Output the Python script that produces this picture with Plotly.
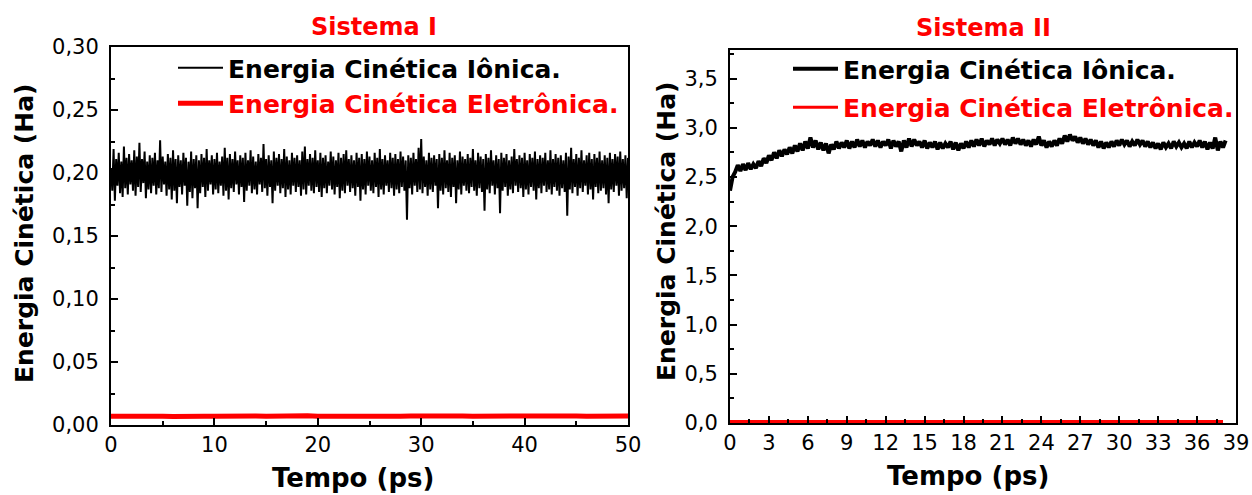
import plotly.graph_objects as go

# ---------------- Data ----------------
# Sistema I : ionic kinetic energy, time step 0.125 ps, 0..50 ps
s1_t_step = 0.125
s1_ionic = [
    0.204,
    0.186, 0.219, 0.178, 0.211, 0.190, 0.216, 0.184, 0.209, 0.181, 0.221,
    0.188, 0.212, 0.183, 0.215, 0.191, 0.210, 0.186, 0.218, 0.182, 0.213,
    0.189, 0.224, 0.185, 0.211, 0.192, 0.217, 0.180, 0.209, 0.187, 0.214,
    0.184, 0.212, 0.190, 0.216, 0.183, 0.210, 0.188, 0.226, 0.185, 0.213,
    0.191, 0.209, 0.182, 0.215, 0.187, 0.212, 0.179, 0.218, 0.186, 0.211,
    0.176, 0.214, 0.189, 0.210, 0.183, 0.216, 0.190, 0.212, 0.174, 0.209,
    0.185, 0.217, 0.180, 0.211, 0.188, 0.214, 0.172, 0.210, 0.184, 0.215,
    0.189, 0.212, 0.181, 0.219, 0.186, 0.210, 0.191, 0.214, 0.183, 0.211,
    0.187, 0.216, 0.184, 0.209, 0.190, 0.213, 0.182, 0.220, 0.186, 0.212,
    0.179, 0.215, 0.188, 0.211, 0.185, 0.217, 0.191, 0.210, 0.183, 0.214,
    0.189, 0.212, 0.177, 0.216, 0.186, 0.210, 0.190, 0.218, 0.184, 0.213,
    0.187, 0.209, 0.183, 0.215, 0.191, 0.212, 0.185, 0.223, 0.188, 0.211,
    0.182, 0.214, 0.189, 0.210, 0.176, 0.217, 0.186, 0.212, 0.190, 0.215,
    0.184, 0.211, 0.188, 0.219, 0.181, 0.213, 0.187, 0.210, 0.183, 0.216,
    0.190, 0.212, 0.185, 0.214, 0.189, 0.210, 0.182, 0.217, 0.187, 0.221,
    0.183, 0.211, 0.190, 0.215, 0.186, 0.212, 0.184, 0.218, 0.189, 0.210,
    0.185, 0.216, 0.181, 0.212, 0.188, 0.214, 0.184, 0.209, 0.190, 0.217,
    0.187, 0.213, 0.183, 0.210, 0.189, 0.216, 0.180, 0.212, 0.186, 0.215,
    0.184, 0.218, 0.190, 0.211, 0.185, 0.214, 0.188, 0.210, 0.182, 0.216,
    0.189, 0.212, 0.178, 0.215, 0.187, 0.211, 0.183, 0.217, 0.190, 0.213,
    0.186, 0.210, 0.184, 0.216, 0.189, 0.212, 0.181, 0.219, 0.187, 0.211,
    0.183, 0.214, 0.190, 0.210, 0.185, 0.216, 0.188, 0.212, 0.182, 0.215,
    0.187, 0.211, 0.184, 0.217, 0.189, 0.213, 0.186, 0.210, 0.163, 0.214,
    0.188, 0.212, 0.183, 0.216, 0.190, 0.211, 0.185, 0.220, 0.187, 0.227,
    0.184, 0.213, 0.189, 0.210, 0.182, 0.216, 0.187, 0.212, 0.185, 0.214,
    0.190, 0.211, 0.172, 0.215, 0.186, 0.212, 0.183, 0.218, 0.188, 0.210,
    0.185, 0.216, 0.181, 0.212, 0.189, 0.214, 0.176, 0.210, 0.187, 0.217,
    0.183, 0.213, 0.190, 0.211, 0.186, 0.215, 0.184, 0.212, 0.189, 0.219,
    0.186, 0.210, 0.182, 0.216, 0.188, 0.213, 0.185, 0.211, 0.170, 0.215,
    0.187, 0.212, 0.184, 0.218, 0.190, 0.210, 0.183, 0.214, 0.188, 0.211,
    0.168, 0.216, 0.186, 0.212, 0.189, 0.215, 0.182, 0.210, 0.187, 0.213,
    0.184, 0.219, 0.190, 0.211, 0.185, 0.214, 0.188, 0.212, 0.181, 0.216,
    0.187, 0.210, 0.183, 0.215, 0.189, 0.212, 0.186, 0.217, 0.179, 0.211,
    0.188, 0.214, 0.184, 0.212, 0.190, 0.216, 0.185, 0.210, 0.187, 0.218,
    0.183, 0.211, 0.189, 0.215, 0.186, 0.212, 0.182, 0.214, 0.188, 0.210,
    0.185, 0.216, 0.166, 0.213, 0.187, 0.220, 0.184, 0.211, 0.189, 0.215,
    0.182, 0.212, 0.188, 0.218, 0.185, 0.210, 0.190, 0.214, 0.183, 0.216,
    0.187, 0.211, 0.179, 0.215, 0.189, 0.212, 0.184, 0.217, 0.186, 0.210,
    0.188, 0.214, 0.183, 0.212, 0.176, 0.216, 0.187, 0.211, 0.185, 0.215,
    0.190, 0.213, 0.182, 0.217, 0.186, 0.211, 0.188, 0.214, 0.180, 0.212,
]
# Sistema I electronic: time step 1 ps, 0..50 ps
s1_e_step = 1.0
s1_electronic = [
    0.0070, 0.0072, 0.0069, 0.0071, 0.0073, 0.0070, 0.0068, 0.0071, 0.0072, 0.0070,
    0.0069, 0.0071, 0.0073, 0.0070, 0.0071, 0.0069, 0.0072, 0.0070, 0.0071, 0.0073,
    0.0070, 0.0069, 0.0071, 0.0072, 0.0070, 0.0071, 0.0069, 0.0072, 0.0070, 0.0071,
    0.0073, 0.0070, 0.0069, 0.0071, 0.0072, 0.0070, 0.0071, 0.0069, 0.0072, 0.0070,
    0.0071, 0.0073, 0.0070, 0.0069, 0.0071, 0.0072, 0.0070, 0.0071, 0.0069, 0.0072,
    0.0071,
]

# Sistema II : ionic kinetic energy, time step 0.2 ps, 0..38.2 ps
s2_t_step = 0.2
s2_ionic = [
    2.36, 2.50, 2.55, 2.62, 2.56,
    2.63, 2.57, 2.64, 2.58, 2.63,
    2.59, 2.66, 2.61, 2.69, 2.64,
    2.72, 2.67, 2.75, 2.69, 2.77,
    2.71, 2.78, 2.73, 2.80, 2.74,
    2.82, 2.76, 2.84, 2.77, 2.86,
    2.79, 2.90, 2.80, 2.87, 2.78,
    2.85, 2.77, 2.84, 2.74, 2.83,
    2.78, 2.86, 2.79, 2.85, 2.80,
    2.87, 2.79, 2.86, 2.80, 2.88,
    2.81, 2.87, 2.80, 2.86, 2.82,
    2.88, 2.81, 2.87, 2.80, 2.86,
    2.82, 2.88, 2.79, 2.87, 2.81,
    2.86, 2.76, 2.87, 2.80, 2.89,
    2.81, 2.88, 2.82, 2.86, 2.80,
    2.87, 2.79, 2.85, 2.80, 2.86,
    2.78, 2.85, 2.79, 2.84, 2.80,
    2.86, 2.78, 2.85, 2.77, 2.84,
    2.79, 2.86, 2.80, 2.87, 2.81,
    2.88, 2.82, 2.89, 2.81, 2.87,
    2.83, 2.89, 2.82, 2.88, 2.84,
    2.89, 2.83, 2.88, 2.82, 2.90,
    2.84, 2.89, 2.83, 2.88, 2.82,
    2.87, 2.81, 2.88, 2.83, 2.91,
    2.82, 2.87, 2.80, 2.86, 2.81,
    2.87, 2.82, 2.89, 2.84, 2.92,
    2.86, 2.93, 2.87, 2.91, 2.85,
    2.90, 2.84, 2.89, 2.83, 2.88,
    2.82, 2.87, 2.80, 2.86, 2.79,
    2.85, 2.80, 2.86, 2.81, 2.87,
    2.82, 2.88, 2.83, 2.87, 2.81,
    2.86, 2.82, 2.88, 2.83, 2.87,
    2.81, 2.86, 2.80, 2.85, 2.79,
    2.84, 2.78, 2.85, 2.80, 2.84,
    2.79, 2.86, 2.81, 2.85, 2.80,
    2.84, 2.79, 2.86, 2.80, 2.85,
    2.81, 2.87, 2.80, 2.86, 2.78,
    2.85, 2.79, 2.90, 2.77, 2.86,
    2.80, 2.87,
]
# Sistema II electronic: time step 1 ps, 0..38 ps
s2_e_step = 1.0
s2_electronic = [
    0.015, 0.016, 0.015, 0.014, 0.015, 0.016, 0.015, 0.015, 0.014, 0.015,
    0.016, 0.015, 0.015, 0.014, 0.015, 0.016, 0.015, 0.015, 0.014, 0.015,
    0.016, 0.015, 0.015, 0.014, 0.015, 0.016, 0.015, 0.015, 0.014, 0.015,
    0.016, 0.015, 0.015, 0.014, 0.015, 0.016, 0.015, 0.015, 0.015,
]

titles = ["Sistema I", "Sistema II"]
legend_names = ["Energia Cinética Iônica.", "Energia Cinética Eletrônica."]
x_title = "Tempo (ps)"
y_title = "Energia Cinética (Ha)"


def times(n, step):
    return [round(i * step, 4) for i in range(n)]


# ---------------- Figure ----------------
W, H = 1252, 495
FONT = "DejaVu Sans, Liberation Sans, Arial, sans-serif"
RED = "#ff0000"

fig = go.Figure()

fig.add_trace(go.Scatter(x=times(len(s1_ionic), s1_t_step), y=s1_ionic, mode="lines",
                         line=dict(color="black", width=2), name=legend_names[0],
                         xaxis="x", yaxis="y", legend="legend", legendgroup="a"))
fig.add_trace(go.Scatter(x=times(len(s1_electronic), s1_e_step), y=s1_electronic, mode="lines",
                         line=dict(color=RED, width=5), name=f"<span style='color:{RED}'>{legend_names[1]}</span>",
                         xaxis="x", yaxis="y", legend="legend", legendgroup="b"))
fig.add_trace(go.Scatter(x=times(len(s2_ionic), s2_t_step), y=s2_ionic, mode="lines",
                         line=dict(color="black", width=4), name=legend_names[0],
                         xaxis="x2", yaxis="y2", legend="legend2", legendgroup="c"))
fig.add_trace(go.Scatter(x=times(len(s2_electronic), s2_e_step), y=s2_electronic, mode="lines",
                         line=dict(color=RED, width=3), name=f"<span style='color:{RED}'>{legend_names[1]}</span>",
                         xaxis="x2", yaxis="y2", legend="legend2", legendgroup="d"))


def px_x(p):
    return p / W


def px_y(p):
    return 1 - p / H


axis_common = dict(showline=True, linecolor="black", linewidth=2, mirror=True,
                   ticks="inside", ticklen=7, tickwidth=2, tickcolor="black",
                   showgrid=False, zeroline=False, automargin=False,
                   tickfont=dict(family=FONT, size=21, color="black"))

legend_font = dict(family=FONT, size=25, color="black", weight="bold")

fig.update_layout(
    width=W, height=H,
    margin=dict(l=0, r=0, t=0, b=0, autoexpand=False),
    paper_bgcolor="white", plot_bgcolor="white",
    separators=",.",
    xaxis=dict(domain=[px_x(111), px_x(628)], range=[0, 50], dtick=10, tick0=0,
               anchor="y", ticklabelstandoff=0,
               minor=dict(ticks="inside", ticklen=4, tickwidth=2, dtick=5, tickcolor="black"),
               **axis_common),
    yaxis=dict(domain=[px_y(425), px_y(47)], range=[0, 0.30], dtick=0.05, tick0=0,
               tickformat=".2f", anchor="x", ticklabelstandoff=6,
               minor=dict(ticks="inside", ticklen=4, tickwidth=2, dtick=0.025, tickcolor="black"),
               **axis_common),
    xaxis2=dict(domain=[px_x(730), px_x(1236)], range=[0, 39], dtick=3, tick0=0,
                anchor="y2", ticklabelstandoff=0,
                minor=dict(ticks="inside", ticklen=4, tickwidth=2, dtick=1.5, tickcolor="black"),
                **axis_common),
    yaxis2=dict(domain=[px_y(423), px_y(50)], range=[0, 3.79], dtick=0.5, tick0=0,
                tickformat=".1f", anchor="x2", ticklabelstandoff=6,
                minor=dict(ticks="inside", ticklen=4, tickwidth=2, dtick=0.25, tickcolor="black"),
                **axis_common),
    legend=dict(x=px_x(173), y=px_y(45), xanchor="left", yanchor="top", itemwidth=45,
                bgcolor="rgba(0,0,0,0)", borderwidth=0, tracegroupgap=0,
                font=legend_font),
    legend2=dict(x=px_x(788), y=px_y(46), xanchor="left", yanchor="top", itemwidth=45,
                 bgcolor="rgba(0,0,0,0)", borderwidth=0, tracegroupgap=3,
                 font=legend_font),
    showlegend=True,
)

annotations = [
    dict(text=f"<b>{titles[0]}</b>", x=px_x(374), y=px_y(27), xref="paper", yref="paper",
         showarrow=False, font=dict(family=FONT, size=24, color=RED), xanchor="center", yanchor="middle"),
    dict(text=f"<b>{titles[1]}</b>", x=px_x(983), y=px_y(28), xref="paper", yref="paper",
         showarrow=False, font=dict(family=FONT, size=24, color=RED), xanchor="center", yanchor="middle"),
    dict(text=f"<b>{x_title}</b>", x=px_x(353), y=px_y(478), xref="paper", yref="paper",
         showarrow=False, font=dict(family=FONT, size=26, color="black"), xanchor="center", yanchor="middle"),
    dict(text=f"<b>{x_title}</b>", x=px_x(968), y=px_y(476), xref="paper", yref="paper",
         showarrow=False, font=dict(family=FONT, size=26, color="black"), xanchor="center", yanchor="middle"),
    dict(text=f"<b>{y_title}</b>", x=px_x(25), y=px_y(234), xref="paper", yref="paper", textangle=-90,
         showarrow=False, font=dict(family=FONT, size=25, color="black"), xanchor="center", yanchor="middle"),
    dict(text=f"<b>{y_title}</b>", x=px_x(666), y=px_y(232), xref="paper", yref="paper", textangle=-90,
         showarrow=False, font=dict(family=FONT, size=25, color="black"), xanchor="center", yanchor="middle"),
]
fig.update_layout(annotations=annotations)

fig.write_html("out.html")
